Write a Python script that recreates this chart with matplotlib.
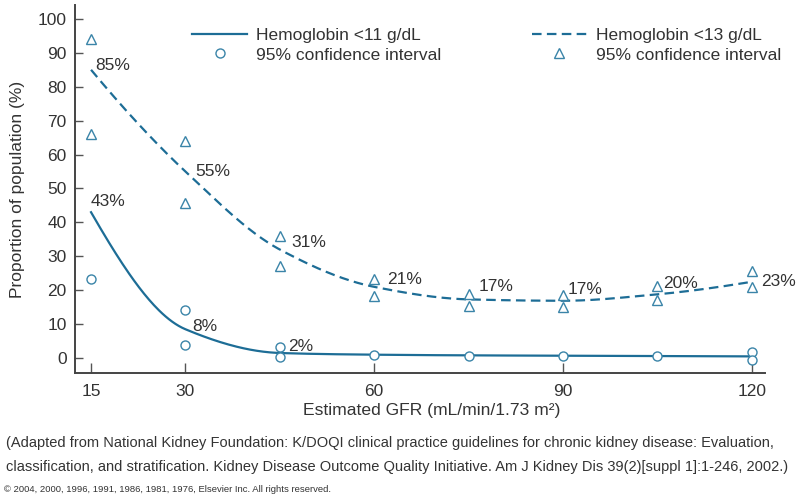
import numpy as np
import matplotlib
matplotlib.use("Agg")
import matplotlib.pyplot as plt
from matplotlib.lines import Line2D

# estimated GFR stages (mL/min/1.73 m2)
gfr = [15, 30, 45, 60, 75, 90, 105, 120]

# fitted curves (%)
hb11_fit = [43, 8.5, 1.5, 1.0, 0.8, 0.7, 0.6, 0.5]
hb13_fit = [85, 55, 32, 21, 17.3, 16.9, 18.8, 22.5]

# printed labels
hb11_labels = ["43%", "8%", "2%"]
hb13_labels = ["85%", "55%", "31%", "21%", "17%", "17%", "20%", "23%"]

# 95% confidence limits (%)
ci11_x = [15, 30, 30, 45, 45, 60, 75, 90, 105, 120, 120]
ci11_y = [23.3, 14.1, 3.8, 3.2, 0.2, 0.9, 0.6, 0.6, 0.6, 1.9, -0.7]
ci13_x = [15, 15, 30, 30, 45, 45, 60, 60, 75, 75, 90, 90, 105, 105, 120, 120]
ci13_y = [94.1, 66.1, 63.9, 45.8, 36.0, 27.1, 23.4, 18.2, 19.0, 15.4, 18.6, 15.0,
          21.2, 17.1, 25.8, 21.0]

LINE = "#1d6d96"
MARK = "#3a84a8"
TXT = "#333333"
MAIN_FONT = ["Liberation Sans", "DejaVu Sans"]


def pchip(x, y, xs):
    # monotone cubic, just to draw a smooth curve through the points
    x = np.asarray(x, float)
    y = np.asarray(y, float)
    h = np.diff(x)
    d = np.diff(y) / h
    n = len(x)
    m = np.zeros(n)
    for k in range(1, n - 1):
        if d[k - 1] * d[k] > 0:
            w1 = 2 * h[k] + h[k - 1]
            w2 = h[k] + 2 * h[k - 1]
            m[k] = (w1 + w2) / (w1 / d[k - 1] + w2 / d[k])
    m[0] = ((2 * h[0] + h[1]) * d[0] - h[0] * d[1]) / (h[0] + h[1])
    if np.sign(m[0]) != np.sign(d[0]):
        m[0] = 0
    m[-1] = ((2 * h[-1] + h[-2]) * d[-1] - h[-1] * d[-2]) / (h[-1] + h[-2])
    if np.sign(m[-1]) != np.sign(d[-1]):
        m[-1] = 0
    out = np.empty_like(xs, dtype=float)
    for i, xv in enumerate(xs):
        k = min(np.searchsorted(x, xv, side="right") - 1, n - 2)
        t = (xv - x[k]) / h[k]
        h00 = 2 * t**3 - 3 * t**2 + 1
        h10 = t**3 - 2 * t**2 + t
        h01 = -2 * t**3 + 3 * t**2
        h11 = t**3 - t**2
        out[i] = h00 * y[k] + h10 * h[k] * m[k] + h01 * y[k + 1] + h11 * h[k] * m[k + 1]
    return out


plt.rcParams['font.family'] = MAIN_FONT
plt.rcParams['text.color'] = TXT

fig = plt.figure(figsize=(8, 4.99), dpi=100)
ax = fig.add_axes([75 / 800, 1 - 373 / 499, 690 / 800, 368 / 499])

xs = np.linspace(15, 120, 400)
ax.plot(xs, pchip(gfr, hb11_fit, xs), color=LINE, lw=1.6, zorder=2)
ax.plot(xs, pchip(gfr, hb13_fit, xs), color=LINE, lw=1.6, dashes=(4.3, 2.4), zorder=2)

ax.plot(ci11_x, ci11_y, 'o', ms=6.5, mfc='white', mec=MARK, mew=1.0, zorder=3)
ax.plot(ci13_x, ci13_y, '^', ms=6.5, mfc='white', mec=MARK, mew=1.0, zorder=3)

# percentage labels (offsets in points from the fitted value)
off11 = [(0, 8), (5, 2), (6, 5)]
for x, y, lab, o in zip(gfr, hb11_fit, hb11_labels, off11):
    ax.annotate(lab, (x, y), xytext=o, textcoords='offset points',
                fontsize=12.5, ha='left', va='center', color=TXT)
off13 = [(3, 3), (7, 0), (8, 5), (9, 5), (7, 9), (3, 8), (4, 8), (7, 0)]
for x, y, lab, o in zip(gfr, hb13_fit, hb13_labels, off13):
    ax.annotate(lab, (x, y), xytext=o, textcoords='offset points',
                fontsize=12.5, ha='left', va='center', color=TXT)

ax.set_xlim(12.45, 122.1)
ax.set_ylim(-4.4, 104.1)
ax.set_xticks([15, 30, 60, 90, 120])
ax.set_yticks(range(0, 101, 10))
ax.tick_params(axis='both', direction='in', colors='#555555', labelcolor=TXT,
               labelsize=12.5, width=1.0)
ax.tick_params(axis='x', length=7, pad=8)
ax.tick_params(axis='y', length=6, pad=6)
for s in ['top', 'right']:
    ax.spines[s].set_visible(False)
for s in ['left', 'bottom']:
    ax.spines[s].set_color('#444444')
    ax.spines[s].set_linewidth(1.4)

ax.set_ylabel("Proportion of population (%)", fontsize=12.5, labelpad=9, color=TXT)

handles = [
    Line2D([], [], color=LINE, lw=1.6),
    Line2D([], [], ls='none', marker='o', ms=6.5, mfc='white', mec=MARK, mew=1.0),
    Line2D([], [], color=LINE, lw=1.6, dashes=(4.3, 2.4)),
    Line2D([], [], ls='none', marker='^', ms=6.5, mfc='white', mec=MARK, mew=1.0),
]
labels = ["Hemoglobin <11 g/dL", "95% confidence interval",
          "Hemoglobin <13 g/dL", "95% confidence interval"]
fig.legend(handles, labels, ncol=2, frameon=False, fontsize=12.5,
           loc='upper left', bbox_to_anchor=(178 / 800, 1 - 14 / 499),
           handlelength=3.2, handletextpad=0.5, labelspacing=0.25,
           columnspacing=5.2, borderpad=0.3)

fig.text(432 / 800, 1 - 411 / 499, "Estimated GFR (mL/min/1.73 m\u00b2)",
         ha='center', va='center', fontsize=12.6)
fig.text(6 / 800, 1 - 443 / 499,
         "(Adapted from National Kidney Foundation: K/DOQI clinical practice guidelines for chronic kidney disease: Evaluation,",
         ha='left', va='center', fontsize=10.5)
fig.text(6 / 800, 1 - 467 / 499,
         "classification, and stratification. Kidney Disease Outcome Quality Initiative. Am J Kidney Dis 39(2)[suppl 1]:1-246, 2002.)",
         ha='left', va='center', fontsize=10.5)
fig.text(4 / 800, 1 - 489 / 499,
         "\u00a9 2004, 2000, 1996, 1991, 1986, 1981, 1976, Elsevier Inc. All rights reserved.",
         ha='left', va='center', fontsize=6.8)

fig.savefig("out.png", dpi=100)
